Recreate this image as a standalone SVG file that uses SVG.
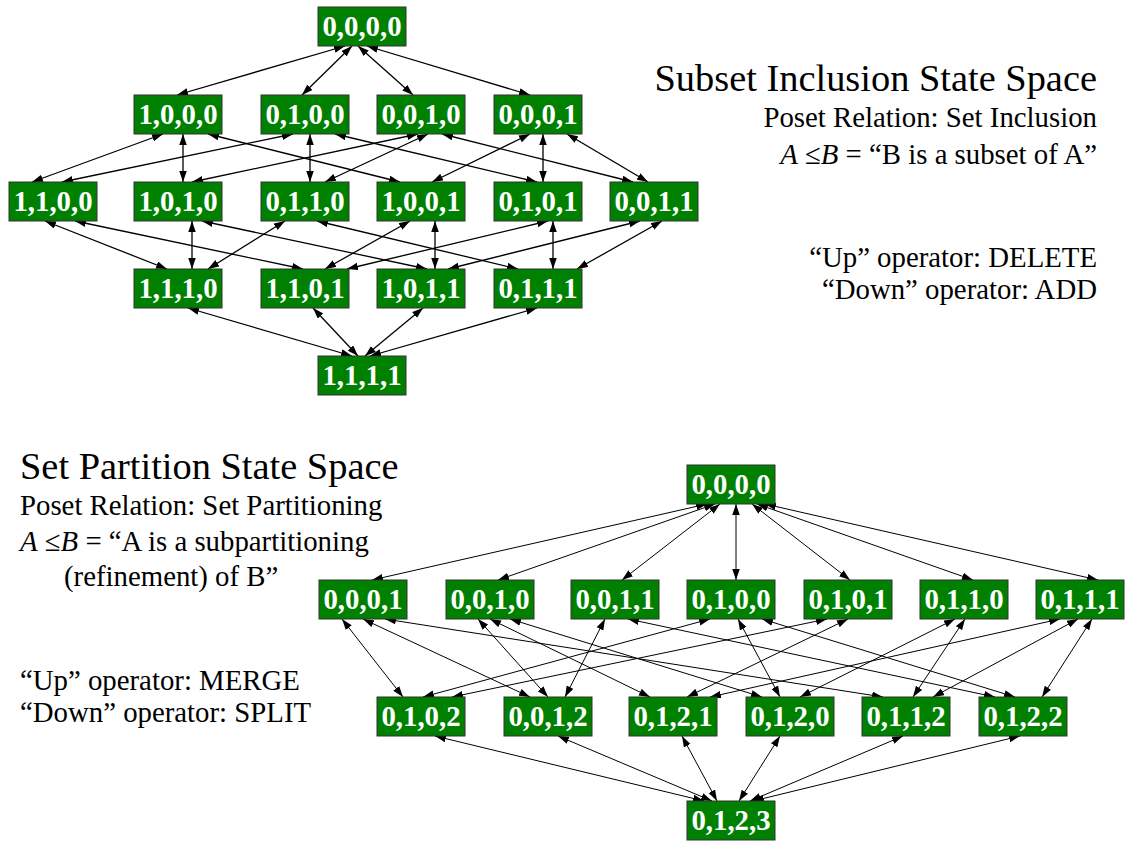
<svg xmlns="http://www.w3.org/2000/svg" width="1125" height="841" viewBox="0 0 1125 841">
<style>
.n rect{fill:#008000;stroke:#333;stroke-width:1}
.n text{font-family:"Liberation Serif","Times New Roman",serif;font-weight:bold;font-size:28.8px;fill:#fff;text-anchor:middle}
.e line{stroke:#000;marker-start:url(#ah);marker-end:url(#ah)}
#edges-top line{stroke-width:1.3}
#edges-bottom line{stroke-width:1}
.t{font-family:"Liberation Serif","Times New Roman",serif;fill:#000;font-size:28.8px}
.h{font-size:38.4px}
.r{text-anchor:end}
.i{font-style:italic}
</style>
<defs>
<marker id="ah" markerUnits="userSpaceOnUse" markerWidth="11" markerHeight="8" refX="11" refY="3.75" orient="auto-start-reverse">
<path d="M0,0 L11,3.75 L0,7.5 z" fill="#000"/>
</marker>
</defs>
<rect x="0" y="0" width="1125" height="841" fill="#fff"/>

<g id="edges-top" class="e">
<line x1="345" y1="46" x2="177" y2="95"/>
<line x1="352" y1="46" x2="302" y2="95"/>
<line x1="358" y1="46" x2="413" y2="95"/>
<line x1="367" y1="46" x2="530" y2="95"/>
<line x1="163" y1="134" x2="32" y2="182"/>
<line x1="183" y1="134" x2="183" y2="182"/>
<line x1="208" y1="134" x2="400" y2="182"/>
<line x1="293" y1="134" x2="62" y2="182"/>
<line x1="310" y1="134" x2="310" y2="182"/>
<line x1="335" y1="134" x2="537" y2="182"/>
<line x1="418" y1="134" x2="192" y2="182"/>
<line x1="428" y1="134" x2="325" y2="182"/>
<line x1="442" y1="134" x2="633" y2="182"/>
<line x1="530" y1="134" x2="432" y2="182"/>
<line x1="543" y1="134" x2="543" y2="182"/>
<line x1="567" y1="134" x2="648" y2="182"/>
<line x1="45" y1="221" x2="167" y2="269"/>
<line x1="75" y1="221" x2="303" y2="269"/>
<line x1="192" y1="221" x2="192" y2="269"/>
<line x1="202" y1="221" x2="427" y2="269"/>
<line x1="285" y1="221" x2="208" y2="269"/>
<line x1="317" y1="221" x2="518" y2="269"/>
<line x1="410" y1="221" x2="325" y2="269"/>
<line x1="435" y1="221" x2="435" y2="269"/>
<line x1="548" y1="221" x2="347" y2="269"/>
<line x1="553" y1="221" x2="553" y2="269"/>
<line x1="640" y1="221" x2="448" y2="269"/>
<line x1="662" y1="221" x2="577" y2="269"/>
<line x1="188" y1="308" x2="352" y2="356"/>
<line x1="313" y1="308" x2="358" y2="356"/>
<line x1="423" y1="308" x2="365" y2="356"/>
<line x1="537" y1="308" x2="370" y2="356"/>
</g>

<g id="edges-bottom" class="e">
<line x1="707" y1="504" x2="372" y2="580"/>
<line x1="715" y1="504" x2="498" y2="580"/>
<line x1="720" y1="504" x2="622" y2="580"/>
<line x1="736" y1="504" x2="736" y2="580"/>
<line x1="752" y1="504" x2="850" y2="580"/>
<line x1="757" y1="504" x2="973" y2="580"/>
<line x1="765" y1="504" x2="1098" y2="580"/>
<line x1="342" y1="619" x2="403" y2="697"/>
<line x1="363" y1="619" x2="530" y2="697"/>
<line x1="385" y1="619" x2="883" y2="697"/>
<line x1="478" y1="619" x2="548" y2="697"/>
<line x1="490" y1="619" x2="650" y2="697"/>
<line x1="510" y1="619" x2="762" y2="697"/>
<line x1="605" y1="619" x2="565" y2="697"/>
<line x1="628" y1="619" x2="995" y2="697"/>
<line x1="710" y1="619" x2="423" y2="697"/>
<line x1="738" y1="619" x2="780" y2="697"/>
<line x1="762" y1="619" x2="1015" y2="697"/>
<line x1="827" y1="619" x2="452" y2="697"/>
<line x1="848" y1="619" x2="687" y2="697"/>
<line x1="955" y1="619" x2="800" y2="697"/>
<line x1="965" y1="619" x2="913" y2="697"/>
<line x1="1060" y1="619" x2="710" y2="697"/>
<line x1="1078" y1="619" x2="933" y2="697"/>
<line x1="1092" y1="619" x2="1042" y2="697"/>
<line x1="435" y1="736" x2="704" y2="801"/>
<line x1="558" y1="736" x2="712" y2="801"/>
<line x1="682" y1="736" x2="717" y2="801"/>
<line x1="780" y1="736" x2="739" y2="801"/>
<line x1="903" y1="736" x2="750" y2="801"/>
<line x1="1020" y1="736" x2="753" y2="801"/>
</g>

<g id="t0000" class="n"><rect x="318" y="7" width="88" height="39"/><text x="362" y="36">0,0,0,0</text></g>
<g id="t1000" class="n"><rect x="134" y="95" width="88" height="39"/><text x="178" y="124">1,0,0,0</text></g>
<g id="t0100" class="n"><rect x="261" y="95" width="88" height="39"/><text x="305" y="124">0,1,0,0</text></g>
<g id="t0010" class="n"><rect x="377" y="95" width="88" height="39"/><text x="421" y="124">0,0,1,0</text></g>
<g id="t0001" class="n"><rect x="494" y="95" width="88" height="39"/><text x="538" y="124">0,0,0,1</text></g>
<g id="t1100" class="n"><rect x="9" y="182" width="88" height="39"/><text x="53" y="211">1,1,0,0</text></g>
<g id="t1010" class="n"><rect x="134" y="182" width="88" height="39"/><text x="178" y="211">1,0,1,0</text></g>
<g id="t0110" class="n"><rect x="261" y="182" width="88" height="39"/><text x="305" y="211">0,1,1,0</text></g>
<g id="t1001" class="n"><rect x="377" y="182" width="88" height="39"/><text x="421" y="211">1,0,0,1</text></g>
<g id="t0101" class="n"><rect x="494" y="182" width="88" height="39"/><text x="538" y="211">0,1,0,1</text></g>
<g id="t0011" class="n"><rect x="610" y="182" width="88" height="39"/><text x="654" y="211">0,0,1,1</text></g>
<g id="t1110" class="n"><rect x="134" y="269" width="88" height="39"/><text x="178" y="298">1,1,1,0</text></g>
<g id="t1101" class="n"><rect x="261" y="269" width="88" height="39"/><text x="305" y="298">1,1,0,1</text></g>
<g id="t1011" class="n"><rect x="377" y="269" width="88" height="39"/><text x="421" y="298">1,0,1,1</text></g>
<g id="t0111" class="n"><rect x="494" y="269" width="88" height="39"/><text x="538" y="298">0,1,1,1</text></g>
<g id="t1111" class="n"><rect x="318" y="356" width="88" height="39"/><text x="362" y="385">1,1,1,1</text></g>

<g id="b0000" class="n"><rect x="687" y="465" width="88" height="39"/><text x="731" y="494">0,0,0,0</text></g>
<g id="b0001" class="n"><rect x="319" y="580" width="88" height="39"/><text x="363" y="609">0,0,0,1</text></g>
<g id="b0010" class="n"><rect x="446" y="580" width="88" height="39"/><text x="490" y="609">0,0,1,0</text></g>
<g id="b0011" class="n"><rect x="571" y="580" width="88" height="39"/><text x="615" y="609">0,0,1,1</text></g>
<g id="b0100" class="n"><rect x="687" y="580" width="88" height="39"/><text x="731" y="609">0,1,0,0</text></g>
<g id="b0101" class="n"><rect x="804" y="580" width="88" height="39"/><text x="848" y="609">0,1,0,1</text></g>
<g id="b0110" class="n"><rect x="920" y="580" width="88" height="39"/><text x="964" y="609">0,1,1,0</text></g>
<g id="b0111" class="n"><rect x="1036" y="580" width="88" height="39"/><text x="1080" y="609">0,1,1,1</text></g>
<g id="b0102" class="n"><rect x="377" y="697" width="88" height="39"/><text x="421" y="726">0,1,0,2</text></g>
<g id="b0012" class="n"><rect x="504" y="697" width="88" height="39"/><text x="548" y="726">0,0,1,2</text></g>
<g id="b0121" class="n"><rect x="629" y="697" width="88" height="39"/><text x="673" y="726">0,1,2,1</text></g>
<g id="b0120" class="n"><rect x="746" y="697" width="88" height="39"/><text x="790" y="726">0,1,2,0</text></g>
<g id="b0112" class="n"><rect x="862" y="697" width="88" height="39"/><text x="906" y="726">0,1,1,2</text></g>
<g id="b0122" class="n"><rect x="979" y="697" width="88" height="39"/><text x="1023" y="726">0,1,2,2</text></g>
<g id="b0123" class="n"><rect x="687" y="801" width="88" height="39"/><text x="731" y="830">0,1,2,3</text></g>

<g id="labels">
<text class="t h r" x="1097" y="91">Subset Inclusion State Space</text>
<text class="t r" x="1097" y="127">Poset Relation: Set Inclusion</text>
<text class="t r" x="1097" y="164"><tspan class="i">A</tspan> ≤<tspan class="i">B</tspan> = “B is a subset of A”</text>
<text class="t r" x="1097" y="267">“Up” operator: DELETE</text>
<text class="t r" x="1097" y="299">“Down” operator: ADD</text>
<text class="t h" x="20" y="479">Set Partition State Space</text>
<text class="t" x="20" y="515">Poset Relation: Set Partitioning</text>
<text class="t" x="20" y="551"><tspan class="i">A</tspan> ≤<tspan class="i">B</tspan> = “A is a subpartitioning</text>
<text class="t" x="64" y="586">(refinement) of B”</text>
<text class="t" x="20" y="690">“Up” operator: MERGE</text>
<text class="t" x="20" y="722">“Down” operator: SPLIT</text>
</g>
</svg>
